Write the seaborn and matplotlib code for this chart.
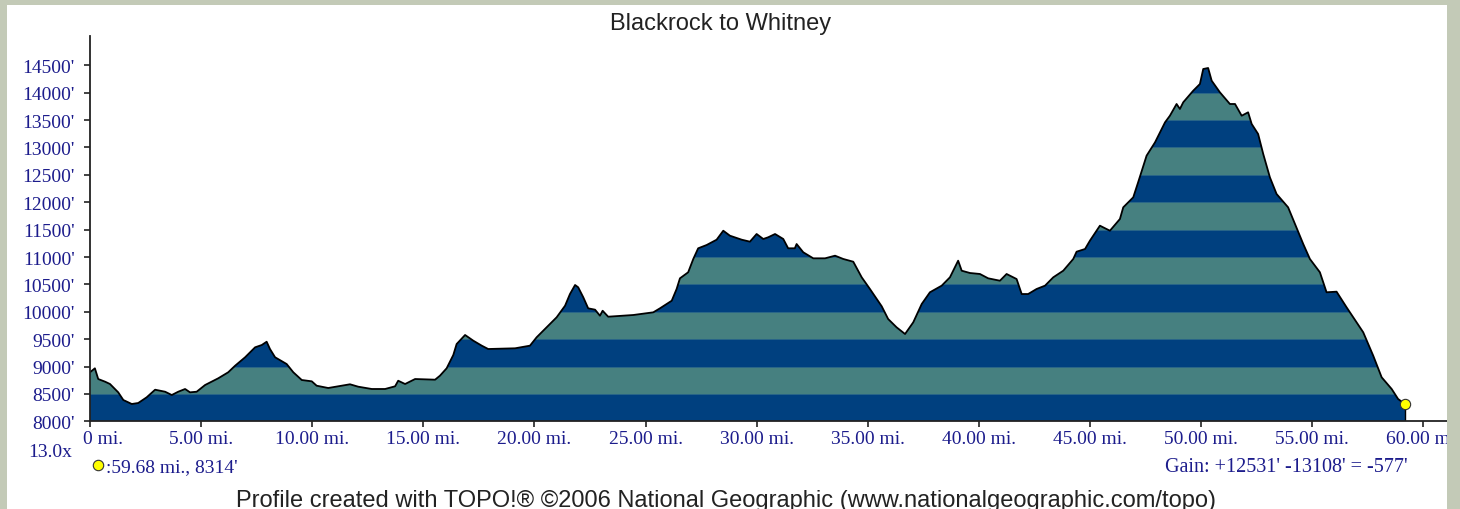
import matplotlib.pyplot as plt
import seaborn as sns
from matplotlib.patches import Rectangle
from matplotlib.path import Path
from matplotlib.transforms import ScaledTranslation

# profil Blackrock -> Whitney (mi, ft)
distance = [0.00, 0.22, 0.37, 0.68, 0.90, 1.27, 1.50, 1.88, 2.17, 2.55, 2.93, 3.38, 3.68, 3.97,
            4.28, 4.50, 4.80, 5.18, 5.77, 6.22, 6.53, 6.98, 7.43, 7.73, 7.95, 8.10, 8.33, 8.85,
            9.15, 9.53, 9.98, 10.20, 10.72, 11.17, 11.70, 12.07, 12.68, 13.28, 13.73, 13.87,
            14.18, 14.63, 15.53, 15.75, 16.05, 16.35, 16.50, 16.88, 17.25, 17.63, 17.92, 19.13,
            19.80, 20.10, 20.55, 21.00, 21.38, 21.60, 21.83, 21.97, 22.20, 22.42, 22.73, 22.95,
            23.07, 23.32, 24.45, 25.35, 25.65, 26.18, 26.40, 26.55, 26.92, 27.15, 27.37, 27.75,
            28.20, 28.50, 28.80, 29.33, 29.70, 30.00, 30.30, 30.52, 30.83, 31.20, 31.42, 31.72,
            31.80, 32.10, 32.55, 33.08, 33.53, 33.90, 34.35, 34.73, 35.10, 35.63, 35.92, 36.30,
            36.68, 37.05, 37.43, 37.80, 38.33, 38.70, 39.07, 39.23, 39.60, 40.05, 40.42, 40.95,
            41.25, 41.70, 41.93, 42.22, 42.60, 42.98, 43.35, 43.80, 44.25, 44.40, 44.78, 45.00,
            45.45, 45.68, 45.90, 46.35, 46.50, 46.95, 47.17, 47.55, 47.93, 48.38, 48.60, 48.90,
            49.05, 49.20, 49.65, 49.95, 50.10, 50.32, 50.48, 50.85, 51.30, 51.53, 51.83, 52.12,
            52.28, 52.57, 52.80, 53.10, 53.40, 53.92, 54.23, 54.60, 54.90, 55.35, 55.65, 56.10,
            56.55, 57.30, 57.75, 58.13, 58.58, 58.87, 59.18]
elevation = [8895, 8968, 8772, 8723, 8681, 8529, 8389, 8316, 8334, 8438, 8577, 8540, 8480, 8540,
             8590, 8529, 8540, 8663, 8785, 8895, 9015, 9169, 9351, 9393, 9453, 9320, 9169, 9046,
             8895, 8754, 8730, 8650, 8608, 8639, 8676, 8632, 8590, 8590, 8639, 8741,
             8681, 8772, 8760, 8833, 8968, 9211, 9411, 9576, 9472, 9381, 9320, 9333,
             9381, 9534, 9716, 9899, 10111, 10324, 10489, 10447, 10264, 10063, 10038, 9928,
             10019, 9910, 9941, 9990, 10063, 10202, 10416, 10611, 10721, 10964, 11159, 11219,
             11316, 11480, 11389, 11316, 11280, 11420, 11329, 11360, 11420, 11329, 11159, 11159,
             11237, 11086, 10976, 10976, 11024, 10964, 10914, 10629, 10416, 10100, 9868, 9716,
             9594, 9808, 10142, 10356, 10477, 10629, 10933, 10750, 10708, 10690, 10611, 10567,
             10690, 10598, 10324, 10324, 10416, 10477, 10629, 10750, 10964, 11097, 11146, 11298,
             11572, 11524, 11480, 11694, 11907, 12090, 12364, 12850, 13094, 13459, 13580, 13794,
             13703, 13825, 14037, 14159, 14433, 14451, 14219, 14007, 13794, 13794, 13580, 13642,
             13429, 13246, 12881, 12455, 12151, 11907, 11603, 11238, 10964, 10721, 10356, 10367,
             10082, 9625, 9198, 8803, 8590, 8407, 8314]

y_ticks = list(range(8000, 15000, 500))
y_labels = [f"{v}'" for v in y_ticks]
x_ticks = list(range(0, 65, 5))
x_labels = ["0 mi."] + [f"{v:.2f} mi." for v in x_ticks[1:]]

titre = "Blackrock to Whitney"
pied = "Profile created with TOPO!\u00ae \u00a92006 National Geographic (www.nationalgeographic.com/topo)"
point_txt = ":59.68 mi., 8314'"
gain_txt = "Gain: +12531' -13108' = -577'"

BLEU = '#00407f'
VERT = '#468080'
TXT = '#1c1c8c'
FOND = '#c3cab7'

sns.set_theme(style='white')
plt.rcParams['font.family'] = ['Liberation Sans', 'DejaVu Sans']

W, H = 1460, 510
fig = plt.figure(figsize=(14.6, 5.1), dpi=100)
fig.patch.set_facecolor('white')
# cadre "photo" autour du panneau blanc, dessiné par-dessus (coupe le label 60 mi.)
for (x0, y0, w, h) in [(0, 0, 7, H), (0, H - 6, W, 6), (1447, 0, W - 1447, H)]:
    fig.patches.append(Rectangle((x0 / W, y0 / H), w / W, h / H, transform=fig.transFigure,
                                 facecolor=FOND, edgecolor='none', zorder=10))

ax = fig.add_axes([90 / W, (H - 422.3) / H, 1357 / W, 385.6 / H])
ax.set_facecolor('white')

# le profil sert de masque pour les bandes
profil = ax.fill_between(distance, 8000, elevation, color='none', lw=0)
masque = Path(profil.get_paths()[0].vertices)
for i, bas in enumerate(range(8000, 15000, 500)):
    bande = ax.axhspan(bas, bas + 500, color=BLEU if i % 2 == 0 else VERT, lw=0)
    bande.set_clip_path(masque, ax.transData)
    if i > 0:
        ligne = ax.axhline(bas, color='#2a6688', lw=0.7)
        ligne.set_clip_path(masque, ax.transData)

sns.lineplot(x=distance, y=elevation, color='black', lw=1.3, sort=False, ax=ax)
ax.vlines(distance[-1], 8000, elevation[-1], color='black', lw=1)
sns.scatterplot(x=[distance[-1]], y=[elevation[-1]], color='#ffff00', edgecolor='#333333',
                s=55, linewidth=0.8, zorder=5, ax=ax)

ax.set_xlim(0, 61.07)
ax.set_ylim(8000, 15041)
ax.set_xticks(x_ticks)
ax.set_xticklabels(x_labels)
ax.set_yticks(y_ticks)
ax.set_yticklabels(y_labels)
ax.set_xlabel('')
ax.set_ylabel('')
sns.despine(ax=ax)
for s in ['left', 'bottom']:
    ax.spines[s].set_color('#222222')
    ax.spines[s].set_linewidth(1.3)
ax.tick_params(direction='out', length=4, width=1.2, color='#222222', labelcolor=TXT,
               labelsize=14, bottom=True, left=True)
ax.tick_params(axis='y', pad=7)
ax.tick_params(axis='x', pad=2)
for lab in ax.get_xticklabels() + ax.get_yticklabels():
    lab.set_family(['Liberation Serif', 'DejaVu Serif'])

labs = ax.get_xticklabels()
labs[0].set_horizontalalignment('left')
labs[0].set_transform(labs[0].get_transform() + ScaledTranslation(-7 / 100, 0, fig.dpi_scale_trans))

fig.text(721 / W, 1 - 30 / H, titre, ha='center', va='baseline', fontsize=17, color='#222222')
fig.text(726 / W, 2.5 / H, pied, ha='center', va='baseline', fontsize=17, color='#222222')
serif = ['Liberation Serif', 'DejaVu Serif']
fig.text(28 / W, 1 - 457 / H, "13.0x", ha='left', va='baseline', fontsize=14, color=TXT, family=serif)
fig.text(106 / W, 1 - 472 / H, point_txt, ha='left', va='baseline', fontsize=14, color=TXT, family=serif)
fig.text(1408 / W, 1 - 472 / H, gain_txt, ha='right', va='baseline', fontsize=14.5, color=TXT, family=serif)
ax.plot([98.3 / W], [1 - 465.7 / H], 'o', transform=fig.transFigure, clip_on=False,
        color='#ffff00', mec='#333333', mew=0.8, ms=7.5)

fig.savefig('out.png', dpi=100, facecolor=fig.get_facecolor())
